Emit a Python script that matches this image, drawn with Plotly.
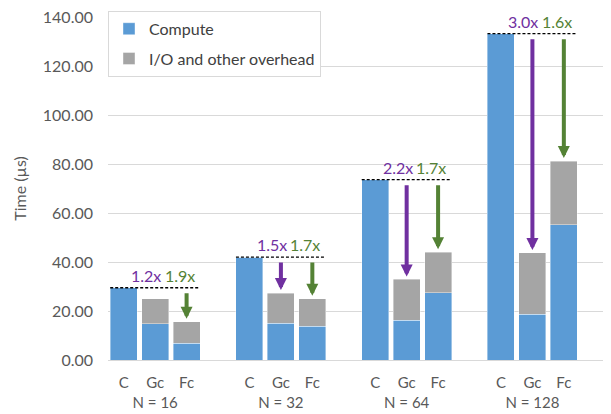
import plotly.graph_objects as go

# ---- data ----
groups = ["N = 16", "N = 32", "N = 64", "N = 128"]
configs = ["C", "Gc", "Fc"]

c_compute = [29.5, 42.0, 73.6, 133.2]
c_overhead = [0.0, 0.0, 0.0, 0.0]
gc_compute = [14.9, 15.1, 16.3, 18.7]
gc_overhead = [10.1, 12.2, 16.6, 25.0]
fc_compute = [6.8, 13.8, 27.5, 55.2]
fc_overhead = [8.8, 11.2, 16.5, 26.0]

gc_speedup = ["1.2x", "1.5x", "2.2x", "3.0x"]
fc_speedup = ["1.9x", "1.7x", "1.7x", "1.6x"]

y_ticks = [0, 20, 40, 60, 80, 100, 120, 140]

# ---- styling ----
BLUE = "#5B9BD5"
GRAY = "#A5A5A5"
PURPLE = "#7030A0"
GREEN = "#548235"
FONT = "Lato"
TXT = "#595959"

# category layout: C, Gc, Fc and one empty slot per group
slots = configs + ["_"]
cat_ids = [f"{s}|{g}" for g in groups for s in slots]


def cid(cfg, g):
    return f"{cfg}|{g}"


def idx(cfg, gi):
    return cat_ids.index(cid(cfg, groups[gi]))


bar_x = [cid(c, g) for g in groups for c in configs]
compute_y = []
overhead_y = []
for gi in range(len(groups)):
    compute_y += [c_compute[gi], gc_compute[gi], fc_compute[gi]]
    overhead_y += [c_overhead[gi], gc_overhead[gi], fc_overhead[gi]]

fig = go.Figure()
fig.add_trace(go.Bar(x=bar_x, y=compute_y, name="Compute", marker_color=BLUE,
                     marker_line=dict(color="rgba(255,255,255,0.5)", width=0.8),
                     legendgroup="a"))
fig.add_trace(go.Bar(x=bar_x, y=overhead_y, name="I/O and other overhead",
                     marker_color=GRAY,
                     marker_line=dict(color="rgba(255,255,255,0.5)", width=0.8),
                     legendgroup="b"))

BARGAP = 0.14
half = (1 - BARGAP) / 2

for gi in range(len(groups)):
    top = c_compute[gi] + c_overhead[gi]
    i_c, i_g, i_f = idx("C", gi), idx("Gc", gi), idx("Fc", gi)
    # dashed reference line
    fig.add_shape(type="line", xref="x", yref="y",
                  x0=i_c - half, x1=i_f + half, y0=top, y1=top,
                  line=dict(color="black", width=1.3, dash="3px,2px"))
    # arrows
    for i_t, tot, col in [(i_g, gc_compute[gi] + gc_overhead[gi], PURPLE),
                          (i_f, fc_compute[gi] + fc_overhead[gi], GREEN)]:
        fig.add_annotation(x=i_t, y=tot, ax=i_t, ay=top, xref="x", yref="y",
                           axref="x", ayref="y", text="", showarrow=True,
                           arrowhead=2, arrowsize=0.6, arrowwidth=4,
                           arrowcolor=col, standoff=3, startstandoff=4)
    # speedup labels
    fig.add_annotation(x=i_g, y=top, xref="x", yref="y", text=gc_speedup[gi],
                       showarrow=False, yanchor="bottom", xshift=-9, yshift=1,
                       font=dict(family=FONT, size=16, color=PURPLE))
    fig.add_annotation(x=i_f, y=top, xref="x", yref="y", text=fc_speedup[gi],
                       showarrow=False, yanchor="bottom", xshift=-7, yshift=1,
                       font=dict(family=FONT, size=16, color=GREEN))

tickvals = [cid(c, g) for g in groups for c in configs]
ticktext = []
for g in groups:
    for c in configs:
        ticktext.append(f"{c}<br>{g}" if c == "Gc" else c)

fig.update_layout(
    width=603, height=406,
    margin=dict(l=100, r=0, t=9, b=54),
    barmode="stack", bargap=BARGAP,
    plot_bgcolor="white", paper_bgcolor="white",
    font=dict(family=FONT, size=15, color=TXT),
    showlegend=True,
    legend=dict(x=0, y=1.018, xanchor="left", yanchor="top",
                bgcolor="white", bordercolor="#D9D9D9", borderwidth=1,
                font=dict(family=FONT, size=16, color="#404040"),
                traceorder="grouped", tracegroupgap=6),
    xaxis=dict(type="category", categoryorder="array", categoryarray=cat_ids,
               range=[-0.5, len(cat_ids) - 0.5],
               tickvals=tickvals, ticktext=ticktext, ticks="", tickangle=0,
               tickfont=dict(family=FONT, size=15, color=TXT),
               showgrid=False, showline=False, ticklabelstandoff=12,
               automargin=False),
    yaxis=dict(range=[0, 140], tickvals=y_ticks,
               tickformat=".2f", ticks="",
               tickfont=dict(family=FONT, size=16, color=TXT),
               gridcolor="#D9D9D9", gridwidth=1,
               zeroline=True, zerolinecolor="#D9D9D9", zerolinewidth=1,
               title=dict(text="Time (µs)", font=dict(family=FONT, size=16, color=TXT),
                          standoff=12),
               ticklabelstandoff=14, ticklabeloverflow="allow",
               automargin=False),
)

fig.write_html("out.html")
